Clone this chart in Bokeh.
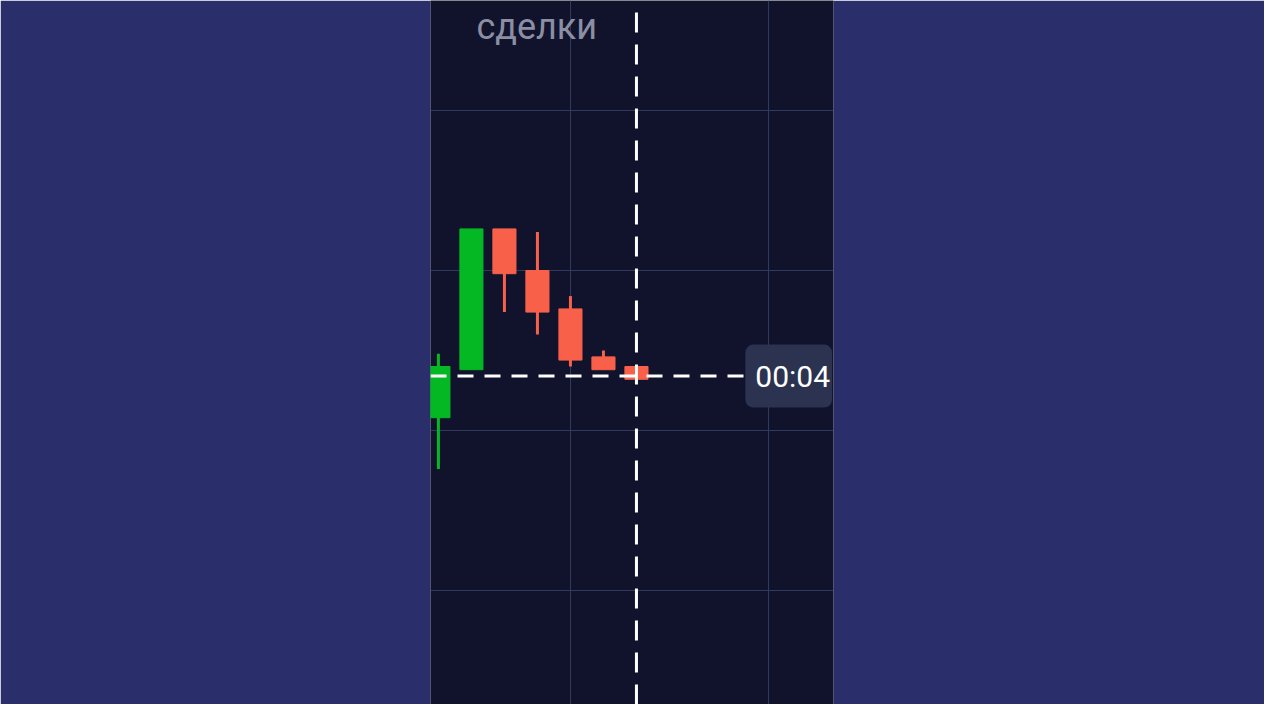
from bokeh.plotting import figure
from bokeh.models import Range1d, FixedTicker, Label
from bokeh.core.properties import value
from bokeh.embed import file_html
from bokeh.resources import INLINE

# candle data (index, open, high, low, close)
idx    = [0, 1, 2, 3, 4, 5, 6]
opens  = [1.08104, 1.08119, 1.08163, 1.08150, 1.08138, 1.08123, 1.08120]
highs  = [1.08124, 1.08163, 1.08163, 1.08162, 1.08142, 1.08125, 1.08120]
lows   = [1.08088, 1.08119, 1.08137, 1.08130, 1.08120, 1.08119, 1.08116]
closes = [1.08120, 1.08163, 1.08149, 1.08137, 1.08122, 1.08119, 1.08116]
current_price = 1.08117
current_index = 6
timer_text = "00:04"
title_text = "сделки"
x_grid = [-2, 4, 10]
y_grid = [1.0805, 1.0810, 1.0815, 1.0820]

GREEN = "#04b823"
RED = "#f8604a"
colors = [GREEN if c >= o else RED for o, c in zip(opens, closes)]
body_top = [max(o, c) for o, c in zip(opens, closes)]
body_bot = [min(o, c) for o, c in zip(opens, closes)]

p = figure(width=1264, height=704, output_backend="svg", toolbar_location=None,
           x_range=Range1d(-0.24, 11.97), y_range=Range1d(1.08014375, 1.08234375),
           min_border_left=430, min_border_right=431, min_border_top=0, min_border_bottom=0)
p.background_fill_color = "#11132c"
p.border_fill_color = "#2a2f6b"
p.outline_line_color = None
p.xaxis.visible = False
p.yaxis.visible = False
p.xgrid.ticker = FixedTicker(ticks=x_grid)
p.ygrid.ticker = FixedTicker(ticks=y_grid)
for g in (p.xgrid, p.ygrid):
    g.grid_line_color = "#2f3a5c"
    g.grid_line_width = 1
    g.grid_line_alpha = 1.0

# title fragment at top
p.text(x=[1.15], y=[1.08226], text=[title_text], text_color="#8a8fa3",
       text_font=value("Roboto"), text_font_size="36px", text_baseline="alphabetic")

# wicks and bodies
p.segment(x0=idx, y0=lows, x1=idx, y1=highs, line_color=colors, line_width=3)
p.vbar(x=idx, width=0.7, top=body_top, bottom=body_bot, fill_color=colors, line_color=colors)

# current price dashed line and current time dashed line
p.segment(x0=[-0.24], y0=[current_price], x1=[9.3], y1=[current_price],
          line_color="white", line_width=3, line_dash="16 11")
p.segment(x0=[current_index], y0=[1.08014375], x1=[current_index], y1=[1.08234375],
          line_color="white", line_width=3, line_dash="20 12")

lab = Label(x=9.30, y=current_price, text=timer_text, text_color="white",
            text_font="Roboto", text_font_size="30px", text_baseline="middle",
            background_fill_color="#2b3350",
            padding=dict(left=10, right=2, top=14, bottom=14), border_radius=8)
p.add_layout(lab)

open("out.html", "w").write(file_html(p, INLINE))
